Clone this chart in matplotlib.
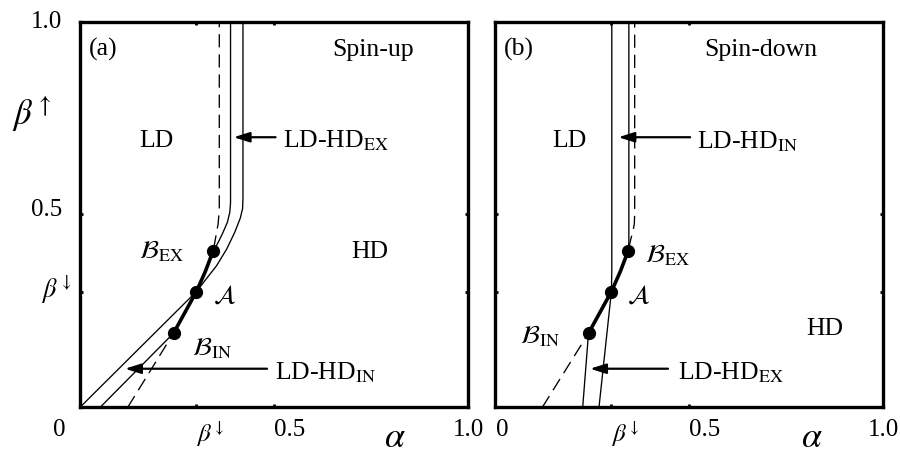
import matplotlib
matplotlib.use("Agg")
import matplotlib.pyplot as plt

plt.rcParams['font.family'] = ['Liberation Serif', 'DejaVu Serif']
plt.rcParams['mathtext.fontset'] = 'stix'
plt.rcParams['lines.scale_dashes'] = False

# ---------------- data ----------------
# special points (shared)
pt_x = [0.241, 0.300, 0.343]          # B_IN, A, B_EX
pt_y = [0.192, 0.300, 0.405]
thick_x = [0.241, 0.300, 0.323, 0.343]
thick_y = [0.192, 0.300, 0.352, 0.405]

# panel (a)  spin-up
a_outer_x = [0.000, 0.300, 0.352, 0.378, 0.399, 0.413, 0.419, 0.420, 0.420]
a_outer_y = [0.000, 0.300, 0.367, 0.410, 0.454, 0.490, 0.515, 0.540, 1.000]
a_inner_x = [0.052, 0.241, 0.300, 0.323, 0.343, 0.355, 0.368, 0.380, 0.386, 0.388, 0.388]
a_inner_y = [0.000, 0.192, 0.300, 0.352, 0.405, 0.425, 0.452, 0.480, 0.505, 0.530, 1.000]
a_dash_x = [0.123, 0.241, 0.300, 0.323, 0.343, 0.347, 0.352, 0.356, 0.358, 0.359, 0.359]
a_dash_y = [0.000, 0.192, 0.300, 0.352, 0.405, 0.425, 0.454, 0.475, 0.500, 0.520, 1.000]

# panel (b)  spin-down
b_left_x = [0.268, 0.300, 0.301, 0.301]
b_left_y = [0.000, 0.300, 0.350, 1.000]
b_right_x = [0.226, 0.241, 0.300, 0.323, 0.344, 0.345, 0.345]
b_right_y = [0.000, 0.192, 0.300, 0.352, 0.405, 0.430, 1.000]
b_dash_x = [0.122, 0.241, 0.300, 0.323, 0.343, 0.350, 0.356, 0.359, 0.360, 0.360]
b_dash_y = [0.000, 0.192, 0.300, 0.352, 0.405, 0.436, 0.458, 0.475, 0.500, 1.000]

W, H = 900, 456
fig = plt.figure(figsize=(W / 100, H / 100), dpi=100)

def px_box(l, r, t, b):
    return [l / W, 1 - b / H, (r - l) / W, (b - t) / H]

axA = fig.add_axes(px_box(80, 468, 22.5, 408.3))
axB = fig.add_axes(px_box(495, 883, 22.5, 408.3))

thin = 0.95
FS = 18.5

def setup(ax):
    ax.set_xlim(0, 1)
    ax.set_ylim(0, 1)
    ax.set_xticks([0.3, 0.5])
    ax.set_yticks([0.3, 0.5])
    ax.tick_params(direction='in', length=2.5, width=2, top=True, right=True,
                   labelbottom=False, labelleft=False)
    for s in ax.spines.values():
        s.set_linewidth(2.4)

def arrow(ax, tail, tip):
    ax.annotate('', xy=tip, xytext=tail,
                arrowprops=dict(arrowstyle='-|>,head_length=0.95,head_width=0.3',
                                mutation_scale=10, lw=1.6, color='k',
                                shrinkA=0, shrinkB=0))

def ticklabels(ax, zero_x, one_x, one_ha):
    kw = dict(transform=ax.transData, clip_on=False, fontsize=18, color='k')
    ax.text(zero_x, -0.056, '0', ha='center', va='center', **kw)
    ax.text(0.300, -0.066, r'$\beta^{\downarrow}$', ha='left', va='center', **kw)
    ax.text(0.500, -0.056, '0.5', ha='left', va='center', **kw)
    ax.text(one_x, -0.056, '1.0', ha=one_ha, va='center', **kw)

# ---------------- panel (a) ----------------
setup(axA)
axA.plot(a_dash_x, a_dash_y, color='k', lw=thin, dashes=(9.5, 5))
axA.plot(a_outer_x, a_outer_y, color='k', lw=thin)
axA.plot(a_inner_x, a_inner_y, color='k', lw=thin)
axA.plot(thick_x, thick_y, color='k', lw=2.6, solid_capstyle='round')
axA.plot(pt_x, pt_y, 'o', color='k', ms=8.5)

arrow(axA, (0.504, 0.700), (0.396, 0.700))
arrow(axA, (0.482, 0.100), (0.116, 0.100))

axA.text(0.059, 0.914, '(a)', fontsize=FS, ha='center', va='baseline')
axA.text(0.755, 0.913, 'Spin-up', fontsize=FS, ha='center', va='baseline')
axA.text(0.198, 0.677, 'LD', fontsize=FS, ha='center', va='baseline')
axA.text(0.522, 0.675, r'LD-HD$_{\rm EX}$', fontsize=FS, ha='left', va='baseline')
axA.text(0.747, 0.389, 'HD', fontsize=FS, ha='center', va='baseline')
axA.text(0.152, 0.389, r'$\mathcal{B}_{\rm EX}$', fontsize=FS, ha='left', va='baseline')
axA.text(0.343, 0.273, r'$\mathcal{A}$', fontsize=FS, ha='left', va='baseline')
axA.text(0.289, 0.138, r'$\mathcal{B}_{\rm IN}$', fontsize=FS, ha='left', va='baseline')
axA.text(0.503, 0.076, r'LD-HD$_{\rm IN}$', fontsize=FS, ha='left', va='baseline')

kw = dict(transform=axA.transData, clip_on=False, color='k')
axA.text(-0.046, 1.0, '1.0', ha='right', va='center', fontsize=18, **kw)
axA.text(-0.046, 0.514, '0.5', ha='right', va='center', fontsize=18, **kw)
axA.text(-0.021, 0.307, r'$\beta^{\downarrow}$', ha='right', va='center', fontsize=19, **kw)
axA.text(-0.175, 0.763, r'$\beta^{\uparrow}$', ha='left', va='center', fontsize=25, **kw)
axA.text(0.812, -0.121, r'$\alpha$', ha='center', va='bottom', fontsize=26, **kw)
ticklabels(axA, -0.053, 1.0, 'center')

# ---------------- panel (b) ----------------
setup(axB)
axB.plot(b_dash_x, b_dash_y, color='k', lw=thin, dashes=(9.5, 5))
axB.plot(b_left_x, b_left_y, color='k', lw=thin)
axB.plot(b_right_x, b_right_y, color='k', lw=thin)
axB.plot(thick_x, thick_y, color='k', lw=2.6, solid_capstyle='round')
axB.plot(pt_x, pt_y, 'o', color='k', ms=8.5)

arrow(axB, (0.503, 0.700), (0.318, 0.700))
arrow(axB, (0.446, 0.100), (0.245, 0.100))

axB.text(0.062, 0.914, '(b)', fontsize=FS, ha='center', va='baseline')
axB.text(0.686, 0.913, 'Spin-down', fontsize=FS, ha='center', va='baseline')
axB.text(0.193, 0.677, 'LD', fontsize=FS, ha='center', va='baseline')
axB.text(0.521, 0.673, r'LD-HD$_{\rm IN}$', fontsize=FS, ha='left', va='baseline')
axB.text(0.851, 0.190, 'HD', fontsize=FS, ha='center', va='baseline')
axB.text(0.387, 0.377, r'$\mathcal{B}_{\rm EX}$', fontsize=FS, ha='left', va='baseline')
axB.text(0.340, 0.273, r'$\mathcal{A}$', fontsize=FS, ha='left', va='baseline')
axB.text(0.064, 0.169, r'$\mathcal{B}_{\rm IN}$', fontsize=FS, ha='left', va='baseline')
axB.text(0.472, 0.076, r'LD-HD$_{\rm EX}$', fontsize=FS, ha='left', va='baseline')

kwb = dict(transform=axB.transData, clip_on=False, color='k')
axB.text(0.817, -0.121, r'$\alpha$', ha='center', va='bottom', fontsize=26, **kwb)
ticklabels(axB, 0.019, 1.0, 'center')

fig.savefig('out.png', dpi=100)
